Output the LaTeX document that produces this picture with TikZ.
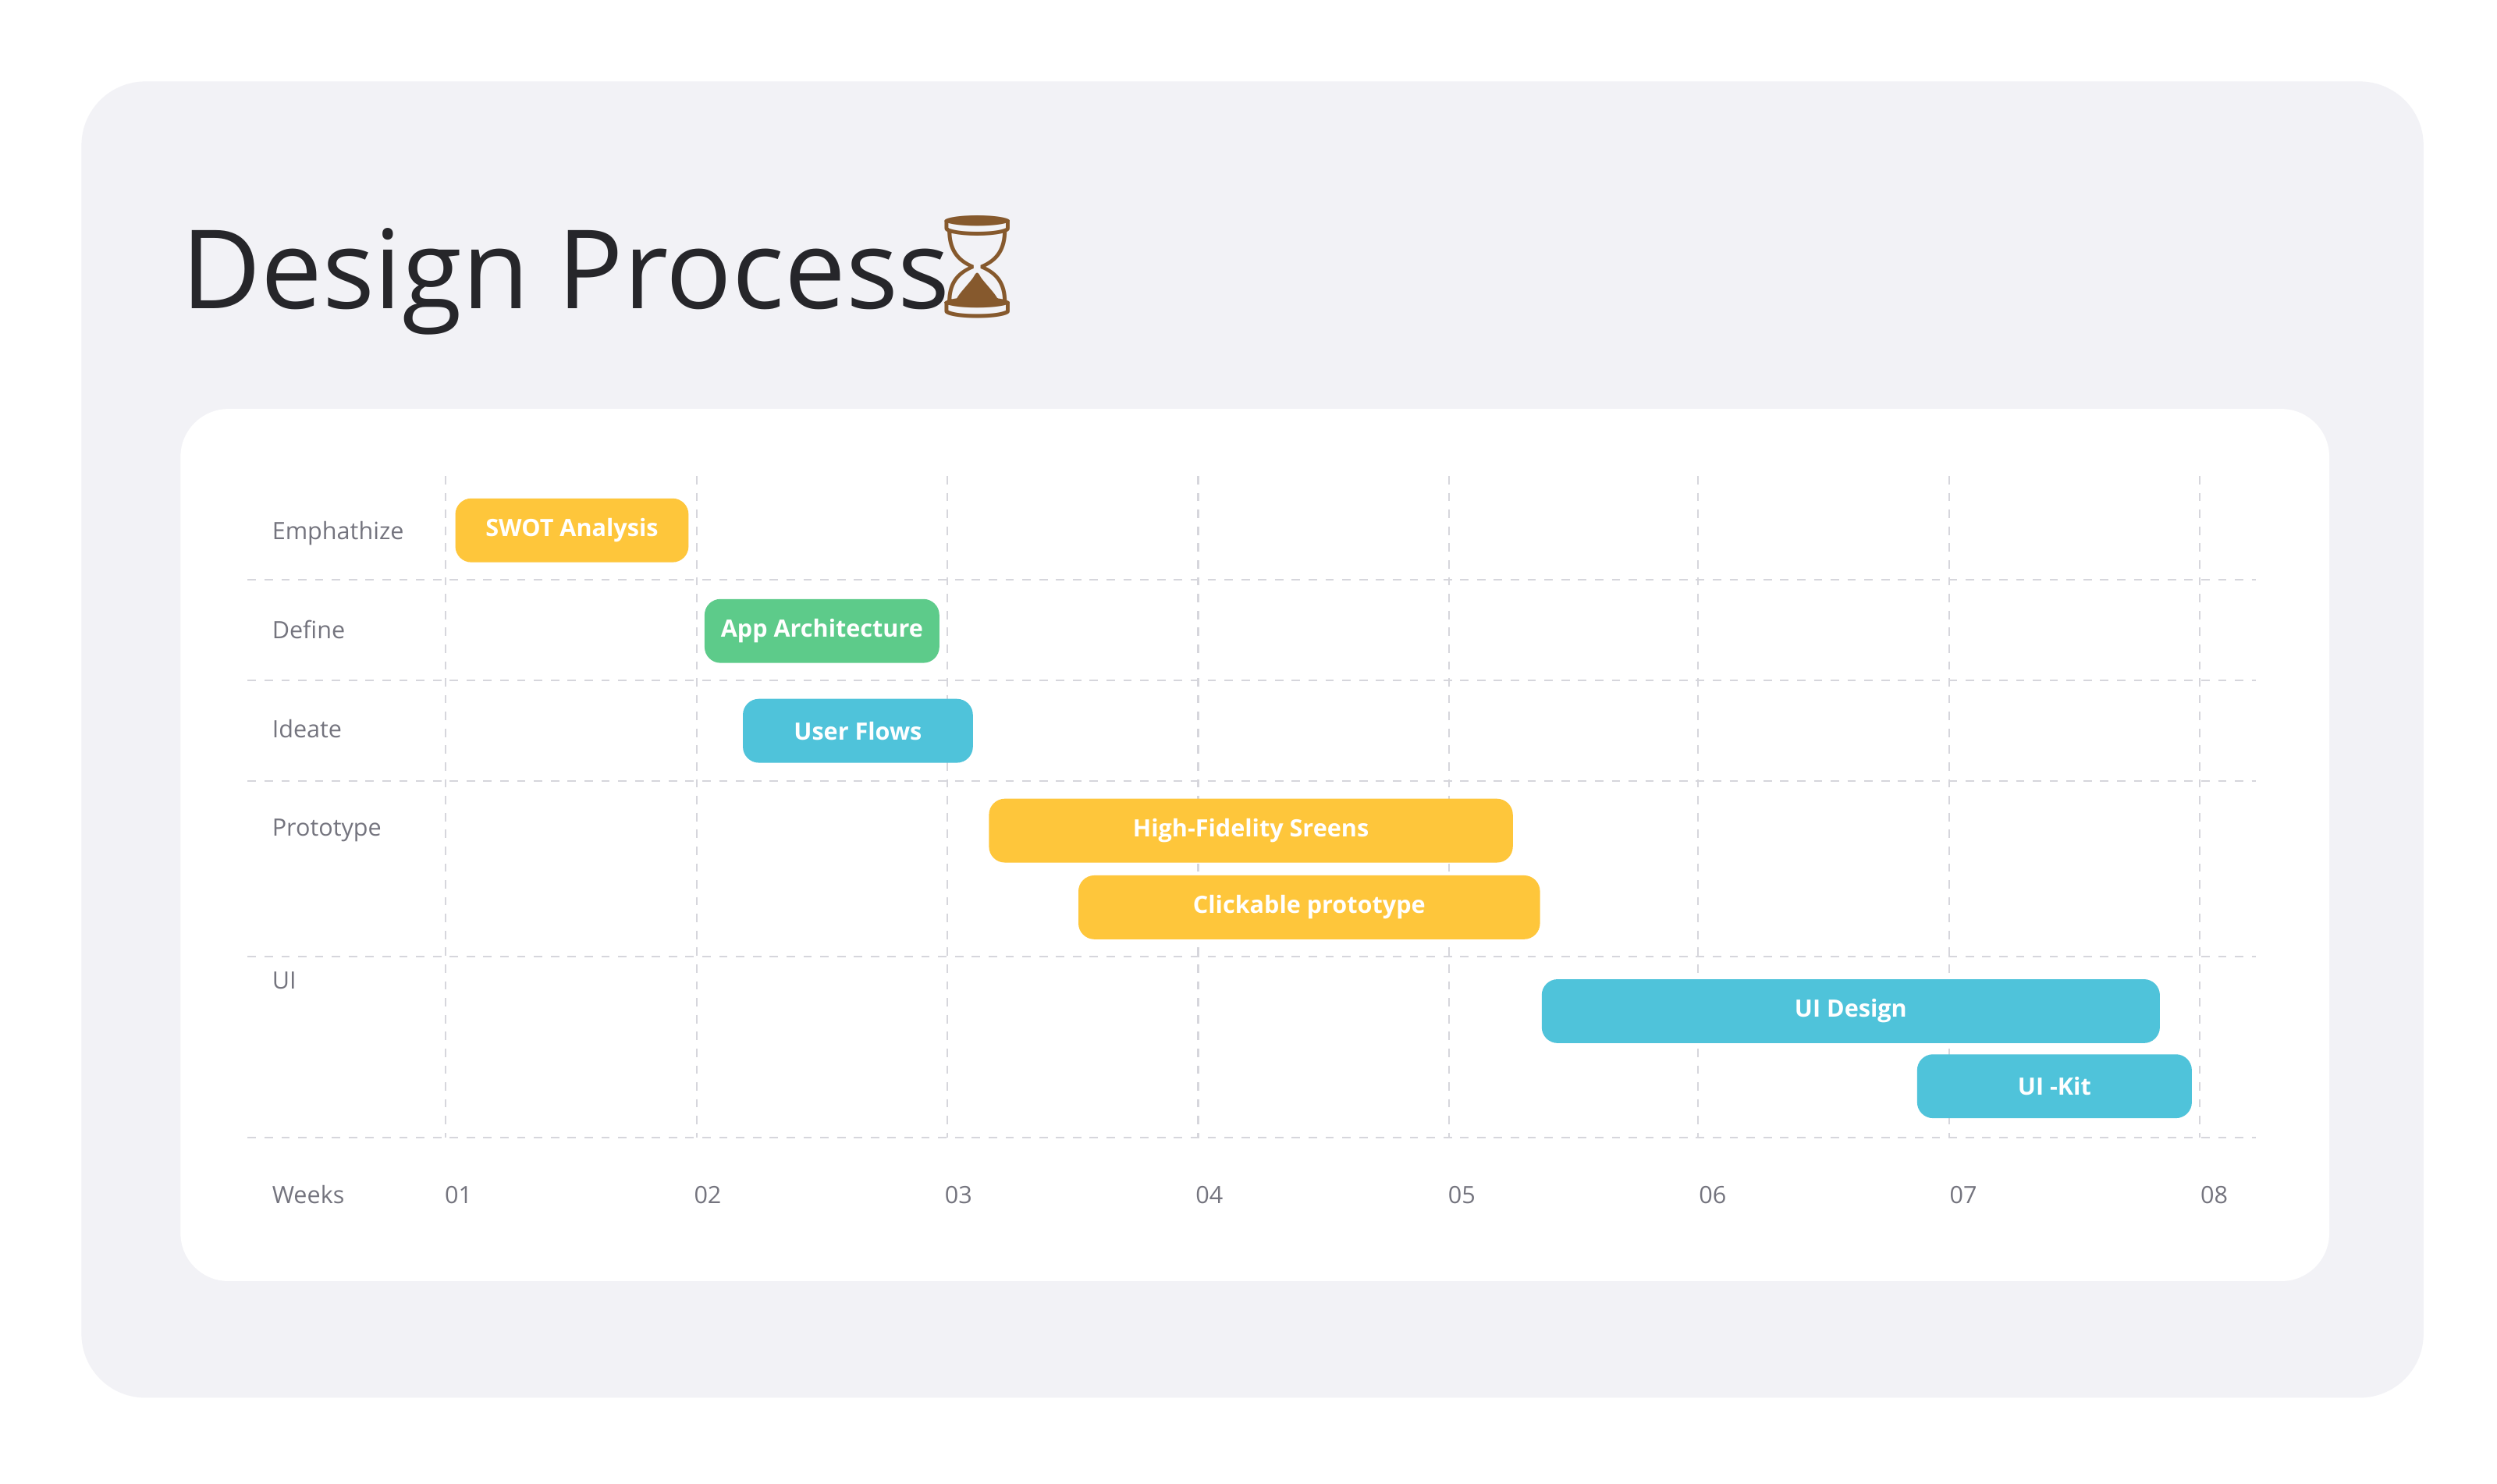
\documentclass[tikz,border=0pt]{standalone}
\usepackage{fontspec}
\setmainfont{Open Sans}
\newfontfamily\emojifont{Noto Emoji}
\usetikzlibrary{positioning}
\definecolor{panelgray}{HTML}{F2F2F6}
\definecolor{gridgray}{HTML}{D6D6DC}
\definecolor{labelgray}{HTML}{74747E}
\definecolor{titleink}{HTML}{26262A}
\definecolor{barYellow}{HTML}{FEC63B}
\definecolor{barGreen}{HTML}{5DCB8A}
\definecolor{barCyan}{HTML}{4FC3DA}
\tikzset{
  rowlabel/.style={anchor=west, text=labelgray, font=\fontsize{8.5}{10}\selectfont, inner sep=0pt},
  weeklabel/.style={text=labelgray, font=\fontsize{8.5}{10}\selectfont, inner sep=0pt},
  gridline/.style={draw=gridgray, dashed, line width=0.6pt},
  bar/.style={fill=#1, rounded corners=0.2cm, minimum height=0.8cm, text=white,
    font=\fontsize{8.5}{10}\selectfont\bfseries, inner sep=0pt}
}
\begin{document}
\begin{tikzpicture}[x=0.02cm, y=-0.02cm]
\useasboundingbox (0,0) rectangle (1563,929);
\fill[white] (0,0) rectangle (1563,929);
\fill[panelgray, rounded corners=0.8cm] (51,51) rectangle (1517,875);
\fill[white, rounded corners=0.6cm] (113,256) rectangle (1458,802);
\node[anchor=base west, inner sep=0pt, text=titleink, font=\fontsize{39}{44}\selectfont] (title) at (113,193) {Design Process};
\node[inner sep=0pt, text=brown!70!black, font=\emojifont\fontsize{36}{40}\selectfont] (glass) at (612,167) {⌛};
% grid
\foreach \gx in {279,436,593,750,907,1063,1220,1377}
  \draw[gridline] (\gx,298) -- (\gx,712);
\foreach \gy in {363,426,489,599,712}
  \draw[gridline] (155,\gy) -- (1412,\gy);
% rows
\node[rowlabel] (emph) at (170,334) {Emphathize};
\node[rowlabel] (define) at (170,394) {Define};
\node[rowlabel] (ideate) at (170,456) {Ideate};
\node[rowlabel] (proto) at (170,520) {Prototype};
\node[rowlabel] (ui) at (170,614) {UI};
\node[rowlabel] (weeks) at (170,748) {Weeks};
\foreach \wx/\wl in {287/01,443/02,600/03,757/04,915/05,1072/06,1229/07,1386/08}
  \node[weeklabel] (w\wl) at (\wx,748) {\wl};
% bars
\node[bar=barYellow, minimum width=2.92cm] (swot) at (358,332) {SWOT Analysis};
\node[bar=barGreen, minimum width=2.94cm] (arch) at (514.5,395) {App Architecture};
\node[bar=barCyan, minimum width=2.88cm] (flows) at (537,457.5) {User Flows};
\node[bar=barYellow, minimum width=6.56cm] (hifi) at (783,520) {High-Fidelity Sreens};
\node[bar=barYellow, minimum width=5.78cm] (click) at (819.5,568) {Clickable prototype};
\node[bar=barCyan, minimum width=7.74cm] (uidesign) at (1158.5,633) {UI Design};
\node[bar=barCyan, minimum width=3.44cm] (uikit) at (1286,680) {UI -Kit};
\end{tikzpicture}
\end{document}
